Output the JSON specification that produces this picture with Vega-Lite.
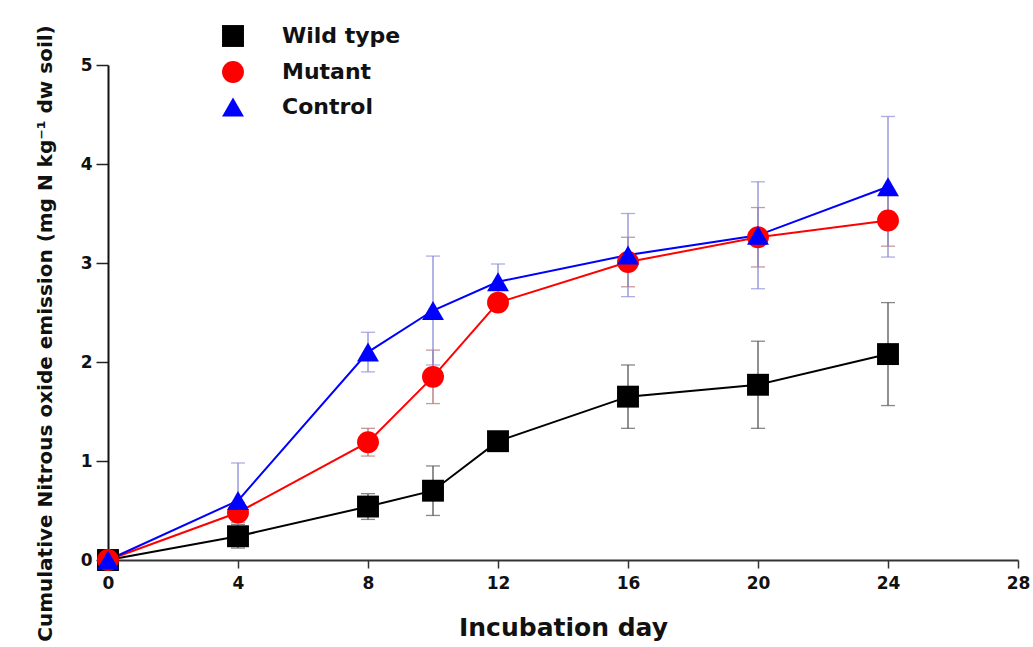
{
  "$schema": "https://vega.github.io/schema/vega-lite/v6.json",
  "width": 910,
  "height": 495,
  "autosize": {"type": "none"},
  "padding": {"left": 108, "top": 65, "right": 15, "bottom": 87},
  "background": "white",
  "config": {"view": {"stroke": null}, "font": "DejaVu Sans"},
  "data": {
    "values": [
      {"day": 0, "value": 0, "err": 0, "series": "Wild type"},
      {"day": 4, "value": 0.24, "err": 0.12, "series": "Wild type"},
      {"day": 8, "value": 0.54, "err": 0.13, "series": "Wild type"},
      {"day": 10, "value": 0.70, "err": 0.25, "series": "Wild type"},
      {"day": 12, "value": 1.20, "err": 0.05, "series": "Wild type"},
      {"day": 16, "value": 1.65, "err": 0.32, "series": "Wild type"},
      {"day": 20, "value": 1.77, "err": 0.44, "series": "Wild type"},
      {"day": 24, "value": 2.08, "err": 0.52, "series": "Wild type"},
      {"day": 0, "value": 0, "err": 0, "series": "Mutant"},
      {"day": 4, "value": 0.48, "err": 0.10, "series": "Mutant"},
      {"day": 8, "value": 1.19, "err": 0.14, "series": "Mutant"},
      {"day": 10, "value": 1.85, "err": 0.27, "series": "Mutant"},
      {"day": 12, "value": 2.60, "err": 0.06, "series": "Mutant"},
      {"day": 16, "value": 3.01, "err": 0.25, "series": "Mutant"},
      {"day": 20, "value": 3.26, "err": 0.30, "series": "Mutant"},
      {"day": 24, "value": 3.43, "err": 0.26, "series": "Mutant"},
      {"day": 0, "value": 0, "err": 0, "series": "Control"},
      {"day": 4, "value": 0.60, "err": 0.38, "series": "Control"},
      {"day": 8, "value": 2.10, "err": 0.20, "series": "Control"},
      {"day": 10, "value": 2.52, "err": 0.55, "series": "Control"},
      {"day": 12, "value": 2.81, "err": 0.18, "series": "Control"},
      {"day": 16, "value": 3.08, "err": 0.42, "series": "Control"},
      {"day": 20, "value": 3.28, "err": 0.54, "series": "Control"},
      {"day": 24, "value": 3.77, "err": 0.71, "series": "Control"}
    ]
  },
  "encoding": {
    "x": {
      "field": "day",
      "type": "quantitative",
      "scale": {"domain": [0, 28], "nice": false},
      "axis": {
        "title": "Incubation day",
        "values": [0, 4, 8, 12, 16, 20, 24, 28],
        "grid": false,
        "labelFont": "DejaVu Sans",
        "labelFontSize": 17,
        "labelFontWeight": "bold",
        "labelColor": "#111",
        "labelPadding": 7,
        "labelFlush": false,
        "tickSize": 8,
        "tickWidth": 1.5,
        "tickColor": "#333",
        "domainColor": "#333",
        "domainWidth": 2,
        "titleFont": "DejaVu Sans",
        "titleFontSize": 25,
        "titleFontWeight": "bold",
        "titleColor": "#111",
        "titlePadding": 24
      }
    },
    "y": {
      "field": "value",
      "type": "quantitative",
      "scale": {"domain": [0, 5], "nice": false},
      "axis": {
        "title": "Cumulative Nitrous oxide emission (mg N kg⁻¹ dw soil)",
        "values": [0, 1, 2, 3, 4, 5],
        "format": "d",
        "grid": false,
        "labelFont": "DejaVu Sans",
        "labelFontSize": 17,
        "labelFontWeight": "bold",
        "labelColor": "#111",
        "labelPadding": 4,
        "tickSize": 12,
        "tickWidth": 1.5,
        "tickColor": "#222",
        "domainColor": "#111",
        "domainWidth": 2,
        "titleFont": "DejaVu Sans",
        "titleFontSize": 20,
        "titleFontWeight": "bold",
        "titleColor": "#111",
        "titleAngle": 270,
        "titleAlign": "center",
        "titleBaseline": "middle",
        "titleX": -63,
        "titleY": 268
      }
    }
  },
  "layer": [
    {
      "mark": {"type": "errorbar", "ticks": {"size": 14}, "thickness": 1.3},
      "encoding": {
        "yError": {"field": "err"},
        "color": {
          "field": "series",
          "type": "nominal",
          "scale": {"domain": ["Wild type", "Mutant", "Control", "zz"], "range": ["#555555", "#b07070", "#8a8ad8", "#ffffff"]},
          "legend": null
        }
      }
    },
    {
      "mark": {"type": "line", "strokeWidth": 2},
      "encoding": {
        "stroke": {
          "field": "series",
          "type": "nominal",
          "scale": {"domain": ["Wild type", "Mutant", "Control", "zzz"], "range": ["#000000", "#ff0000", "#0000ff", "#ffffff"]},
          "legend": null
        }
      }
    },
    {
      "mark": {"type": "point", "filled": true, "size": 480, "opacity": 1, "strokeWidth": 0},
      "encoding": {
        "fill": {
          "field": "series",
          "type": "nominal",
          "scale": {"domain": ["Wild type", "Mutant", "Control"], "range": ["#000000", "#ff0000", "#0000ff"]},
          "legend": {
            "orient": "none",
            "legendX": 113,
            "legendY": -41,
            "title": null,
            "padding": 0,
            "symbolSize": 480,
            "labelFont": "DejaVu Sans",
            "labelFontSize": 22,
            "labelFontWeight": "bold",
            "labelColor": "#111",
            "labelOffset": 37,
            "rowPadding": 8
          }
        },
        "shape": {
          "field": "series",
          "type": "nominal",
          "scale": {"domain": ["Wild type", "Mutant", "Control"], "range": ["square", "circle", "triangle-up"]},
          "legend": {
            "orient": "none",
            "legendX": 113,
            "legendY": -41,
            "title": null,
            "padding": 0,
            "symbolSize": 480,
            "labelFont": "DejaVu Sans",
            "labelFontSize": 22,
            "labelFontWeight": "bold",
            "labelColor": "#111",
            "labelOffset": 37,
            "rowPadding": 8
          }
        }
      }
    }
  ]
}
